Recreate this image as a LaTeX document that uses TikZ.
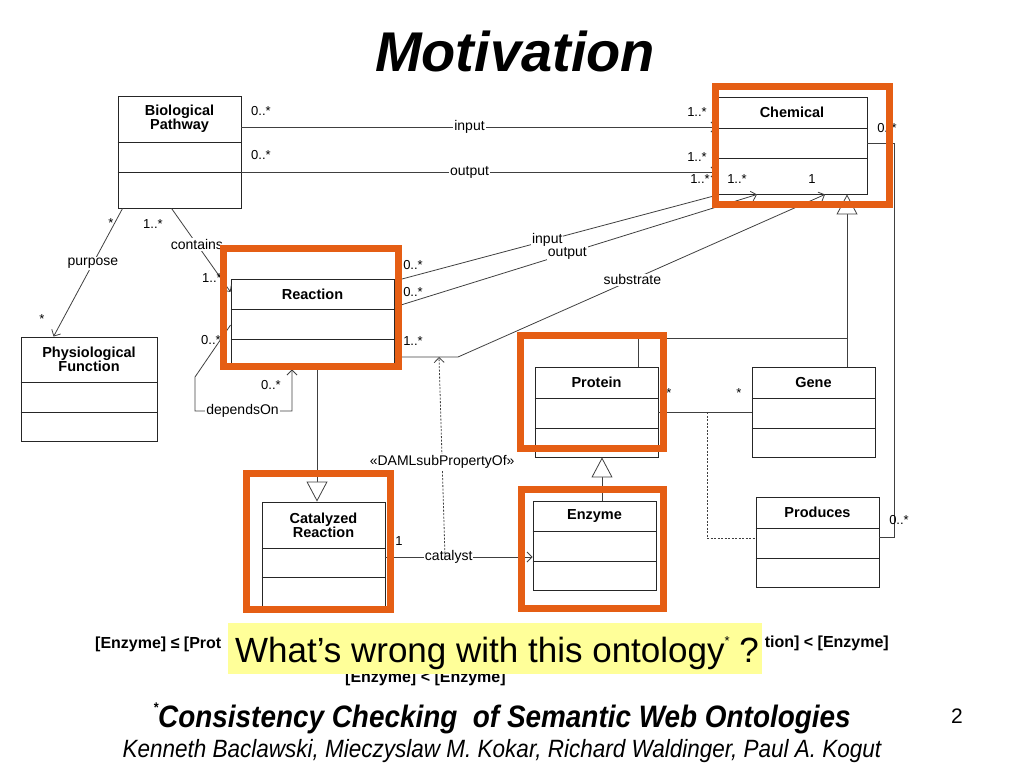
\documentclass[tikz,border=0pt]{standalone}
\usepackage{fontspec}
\setmainfont{Liberation Sans}
\newfontfamily\narrowsans[FakeStretch = 0.9]{Liberation Sans}
\usetikzlibrary{arrows.meta}

\definecolor{hlorange}{RGB}{229,94,20}
\definecolor{notepaper}{RGB}{255,255,153}

\tikzset{
    classbox/.style = {draw = black!85, line width = 0.9pt, fill = white, inner sep = 0pt},
    divider/.style = {draw = black!85, line width = 0.9pt},
    classname/.style = {font = \fontsize{14.5}{14}\selectfont\bfseries, align = center, inner sep = 0pt},
    mult/.style = {font = \fontsize{13}{13}\selectfont, inner sep = 0pt},
    role/.style = {font = \fontsize{14}{14}\selectfont, fill = white, inner sep = 1pt},
    link/.style = {draw = black!75, line width = 0.8pt},
    navig/.style = {link, -{Straight Barb[length = 5pt, width = 10pt]}},
    isa/.style = {link, -{Triangle[length = 20pt, width = 21pt, fill = white]}},
    highlight/.style = {draw = hlorange, line width = 7pt},
    rule/.style = {font = \fontsize{16}{16}\selectfont\bfseries, inner sep = 0pt},
}

\begin{document}
\begin{tikzpicture}[x = 1pt, y = -1pt]
    \useasboundingbox (0, 0) rectangle (1024, 768);

    \node [font = \fontsize{56}{60}\selectfont\bfseries\itshape, anchor = base] (title) at (515, 71) {Motivation};

    % classes
    \node [classbox, minimum width = 123, minimum height = 112] (bp) at (179.5, 152) {};
    \draw [divider] (bp.west |- 0, 142) -- (bp.east |- 0, 142) (bp.west |- 0, 172) -- (bp.east |- 0, 172);
    \node [classname] (bpName) at (179.5, 119) {Biological\\Pathway};

    \node [classbox, minimum width = 136, minimum height = 104] (phys) at (89, 389) {};
    \draw [divider] (phys.west |- 0, 382) -- (phys.east |- 0, 382) (phys.west |- 0, 412) -- (phys.east |- 0, 412);
    \node [classname] (physName) at (89, 359.5) {Physiological\\Function};

    \node [classbox, minimum width = 163, minimum height = 90] (reac) at (312.5, 324) {};
    \draw [divider] (reac.west |- 0, 309) -- (reac.east |- 0, 309) (reac.west |- 0, 339) -- (reac.east |- 0, 339);
    \node [classname] (reacName) at (312.5, 294) {Reaction};

    \node [classbox, minimum width = 150, minimum height = 97] (chem) at (792, 145.5) {};
    \draw [divider] (chem.west |- 0, 128) -- (chem.east |- 0, 128) (chem.west |- 0, 158) -- (chem.east |- 0, 158);
    \node [classname] (chemName) at (792, 112.5) {Chemical};

    \node [classbox, minimum width = 123, minimum height = 90] (prot) at (596.5, 412) {};
    \draw [divider] (prot.west |- 0, 398) -- (prot.east |- 0, 398) (prot.west |- 0, 428) -- (prot.east |- 0, 428);
    \node [classname] (protName) at (596.5, 382.5) {Protein};

    \node [classbox, minimum width = 123, minimum height = 90] (gene) at (813.5, 412) {};
    \draw [divider] (gene.west |- 0, 398) -- (gene.east |- 0, 398) (gene.west |- 0, 428) -- (gene.east |- 0, 428);
    \node [classname] (geneName) at (813.5, 382.5) {Gene};

    \node [classbox, minimum width = 123, minimum height = 90] (prod) at (817.5, 542) {};
    \draw [divider] (prod.west |- 0, 528) -- (prod.east |- 0, 528) (prod.west |- 0, 558) -- (prod.east |- 0, 558);
    \node [classname] (prodName) at (817.5, 512.5) {Produces};

    \node [classbox, minimum width = 123, minimum height = 89] (enz) at (594.5, 545.5) {};
    \draw [divider] (enz.west |- 0, 531) -- (enz.east |- 0, 531) (enz.west |- 0, 561) -- (enz.east |- 0, 561);
    \node [classname] (enzName) at (594.5, 516) {Enzyme};

    \node [classbox, minimum width = 123, minimum height = 104] (cat) at (323.5, 554) {};
    \draw [divider] (cat.west |- 0, 548) -- (cat.east |- 0, 548) (cat.west |- 0, 577) -- (cat.east |- 0, 577);
    \node [classname] (catName) at (323.5, 525) {Catalyzed\\Reaction};

    % associations
    \draw [navig] (bp.east |- 0, 127) -- node [role, pos = 0.48] (inTop) {input} (chem.west |- 0, 127);
    \draw [navig] (bp.east |- 0, 172) -- node [role, pos = 0.48] (outTop) {output} (chem.west |- 0, 172);
    \draw [navig] (reac.east |- 0, 281) -- node [role, pos = 0.47] (inReac) {input} ([xshift = 3]chem.south west);
    \draw [navig] (reac.east |- 0, 307) -- node [role, pos = 0.477] (outReac) {output} (chem.south -| 757, 0);
    \coordinate (subBend) at (458, 357);
    \draw [navig] (reac.east |- 0, 357) -- (subBend) -- node [role, pos = 0.475] (subLbl) {substrate} (chem.south -| 825, 0);
    \draw [navig] ([xshift = 5]bp.south west) -- node [role, pos = 0.43] (purpLbl) {purpose} ([xshift = 33]phys.north west);
    \draw [navig] ([xshift = 54]bp.south west) -- node [role, pos = 0.43] (contLbl) {contains} (reac.west |- 0, 292);
    \draw [navig] (reac.west |- 0, 325) -- (195, 377) -- (195, 411) -- node [role, pos = 0.49] (depLbl) {dependsOn} (292, 411) -- (reac.south -| 292, 0);
    \draw [navig] (cat.east |- 0, 557) -- node [role, pos = 0.43] (catLbl) {catalyst} (enz.west |- 0, 557);
    \coordinate (damlFoot) at (445, 557);
    \coordinate (damlHead) at (439, 357);
    \draw [navig, dash pattern = on 2pt off 1.5pt] (damlFoot) -- node [role, pos = 0.475] (damlLbl) {«DAMLsubPropertyOf»} (damlHead);

    % generalizations
    \draw [isa] (reac.south -| 317, 0) -- (cat.north -| 317, 0);
    \draw [isa] (enz.north -| 602, 0) -- (prot.south -| 602, 0);
    \draw [isa] (gene.north -| 847, 0) -- (chem.south -| 847, 0);
    \coordinate (isaJoin) at (847, 338);
    \draw [link] (prot.north -| 638, 0) |- (isaJoin);

    \draw [link] (gene.west |- 0, 412) -- (prot.east |- 0, 412);
    \coordinate (assocTap) at (707, 412);
    \draw [link, dash pattern = on 2pt off 1.5pt] (assocTap) |- (prod.west |- 0, 538);
    \coordinate (chemProdBend) at (894, 537);
    \draw [link] (chem.east |- 0, 143) -| (chemProdBend) -- (prod.east |- chemProdBend);

    % multiplicities
    \node [mult] (m1) at (261, 111) {0..*};
    \node [mult] (m2) at (261, 155) {0..*};
    \node [mult] (m3) at (697, 112) {1..*};
    \node [mult] (m4) at (697, 157) {1..*};
    \node [mult] (m5) at (700, 179) {1..*};
    \node [mult] (m6) at (737, 179) {1..*};
    \node [mult] (m7) at (812, 179) {1};
    \node [mult] (m8) at (887, 128) {0..*};
    \node [mult] (m9) at (413, 265) {0..*};
    \node [mult] (m10) at (413, 292) {0..*};
    \node [mult] (m11) at (413, 341) {1..*};
    \node [mult] (m12) at (111, 223) {*};
    \node [mult] (m13) at (153, 224) {1..*};
    \node [mult] (m14) at (42, 319) {*};
    \node [mult] (m15) at (212, 278) {1..*};
    \node [mult] (m16) at (211, 340) {0..*};
    \node [mult] (m17) at (271, 385) {0..*};
    \node [mult] (m18) at (669, 393) {*};
    \node [mult] (m19) at (739, 393) {*};
    \node [mult] (m20) at (899, 520) {0..*};
    \node [mult] (m21) at (399, 541) {1};

    % highlights
    \draw [highlight] (715.5, 86.5) rectangle (889.5, 204.5);
    \draw [highlight] (223.5, 248.5) rectangle (398.5, 366.5);
    \draw [highlight] (520.5, 335.5) rectangle (663.5, 448.5);
    \draw [highlight] (521.5, 489.5) rectangle (663.5, 608.5);
    \draw [highlight] (246.5, 473.5) rectangle (390, 609.5);

    % question and reference
    \node [rule, anchor = base west] (ruleLeft) at (95, 648) {[Enzyme] ≤ [Prot};
    \node [rule, anchor = base east] (ruleRight) at (889, 647) {tion] < [Enzyme]};
    \node [rule, anchor = base west] (ruleMid) at (345, 682) {[Enzyme] < [Enzyme]};
    \node [fill = notepaper, minimum width = 534, minimum height = 51, inner sep = 0pt] (question) at (495, 648.5) {};
    \node [font = \fontsize{35}{35}\selectfont, anchor = base, inner sep = 0pt] (questionText) at (497, 662) {What’s wrong with this ontology\raisebox{17pt}{\fontsize{13}{13}\selectfont *}\ ?};

    \node [font = \narrowsans\fontsize{31}{31}\selectfont\bfseries\itshape, anchor = base] (refTitle) at (502, 727) {\raisebox{15pt}{\fontsize{14}{14}\selectfont *}Consistency Checking\ \ of Semantic Web Ontologies};
    \node [font = \narrowsans\fontsize{25}{25}\selectfont\itshape, anchor = base] (refAuthors) at (502, 757) {Kenneth Baclawski, Mieczyslaw M. Kokar, Richard Waldinger, Paul A. Kogut};
    \node [font = \fontsize{21}{21}\selectfont, anchor = base] (pageNo) at (957, 723) {2};
\end{tikzpicture}
\end{document}
